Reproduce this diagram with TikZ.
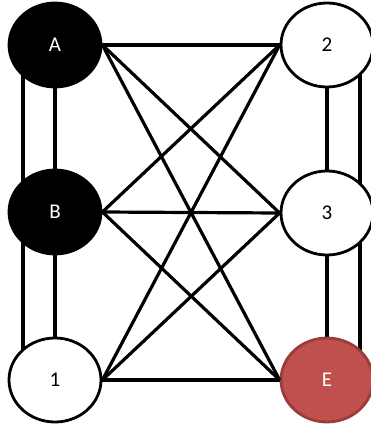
\documentclass[tikz,border=0pt]{standalone}
\usepackage{fontspec}
\setmainfont{Carlito}
\usetikzlibrary{shapes.geometric,backgrounds}
\definecolor{redfill}{HTML}{C0504D}
\definecolor{redline}{HTML}{9A3C3A}
\tikzset{
  vert/.style={ellipse, minimum width=92pt, minimum height=84pt, inner sep=0pt, line width=2.8pt, font=\fontsize{21}{21}\selectfont},
  blackvert/.style={vert, draw=black, fill=black, text=white},
  whitevert/.style={vert, draw=black, fill=white, text=black},
  redvert/.style={vert, draw=redline, fill=redfill, text=white},
  link/.style={draw=black, line width=3.2pt}
}
\begin{document}
\begin{tikzpicture}[x=1pt,y=-1pt]
\useasboundingbox (0,0) rectangle (370,428);
\node[blackvert] (A) at (55,45) {A};
\node[blackvert] (B) at (55,212) {B};
\node[whitevert] (1) at (55,380) {1};
\node[whitevert] (2) at (327,45) {2};
\node[whitevert] (3) at (327,213) {3};
\node[redvert] (E) at (327,380) {E};
\begin{scope}[on background layer]
  \draw[link] ([xshift=-32pt]A.center) -- ([xshift=-32pt]1.center);
  \draw[link] ([xshift=33pt]2.center) -- ([xshift=33pt]E.center);
  \draw[link] (A.center) -- (B.center);
  \draw[link] (B.center) -- (1.center);
  \draw[link] (2.center) -- (3.center);
  \draw[link] (3.center) -- (E.center);
\end{scope}
\draw[link] (A.east) -- (2.west);
\draw[link] (A.east) -- (3.west);
\draw[link] (A.east) -- (E.west);
\draw[link] (B.east) -- (2.west);
\draw[link] (B.east) -- (3.west);
\draw[link] (B.east) -- (E.west);
\draw[link] (1.east) -- (2.west);
\draw[link] (1.east) -- (3.west);
\draw[link] (1.east) -- (E.west);
\end{tikzpicture}
\end{document}
